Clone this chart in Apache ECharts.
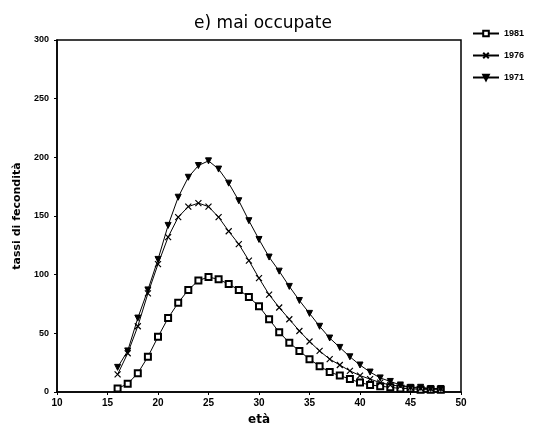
<!DOCTYPE html>
<html><head><meta charset="utf-8">
<script src="https://cdn.jsdelivr.net/npm/echarts@6/dist/echarts.min.js"></script>
<style>html,body{margin:0;padding:0;background:#fff}#c{width:541px;height:433px}</style>
</head><body><div id="c"></div>
<script>
const ages = [16,17,18,19,20,21,22,23,24,25,26,27,28,29,30,31,32,33,34,35,36,37,38,39,40,41,42,43,44,45,46,47,48];
const s1981 = [3,7,16,30,47,63,76,87,95,98,96,92,87,81,73,62,51,42,35,28,22,17,14,11,8,6,5,4,3,3,2,2,2];
const s1976 = [15,33,56,84,109,132,149,158,161,158,149,137,126,112,97,83,72,62,52,43,35,28,23,18,14,11,8,6,5,4,3,3,3];
const s1971 = [21,35,63,87,113,142,166,183,193,197,190,178,163,146,130,115,103,90,78,67,56,46,38,30,23,17,12,9,6,4,4,3,3];
const seriesNames = ['1981','1976','1971'];
const xTicks = [10,50,5];
const yTicks = [0,300,50];

const pair = a => ages.map((x,i)=>[x,a[i]]);
const font = 'Liberation Sans';
const xPath = 'path://M0,0L10,10M10,0L0,10';
function mk(name, data, symbol, size, rot, bw){
  return {name, type:'line', data: pair(data), symbol, symbolSize:size, symbolRotate:rot,
    lineStyle:{color:'#000', width:1}, showAllSymbol:true,
    itemStyle:{color:'#000', borderColor:'#000', borderWidth:bw},
    emphasis:{disabled:true}};
}
const chart = echarts.init(document.getElementById('c'));
chart.setOption({
  animation:false,
  backgroundColor:'#fff',
  title:{text:'e) mai occupate', left:258, top:10, textAlign:'center',
    textStyle:{fontFamily:'DejaVu Sans', fontWeight:'normal', fontSize:17, color:'#000'}},
  legend:{orient:'vertical', left:467, top:24, itemWidth:26, itemHeight:7, itemGap:13,
    textStyle:{fontFamily:font, fontWeight:'bold', fontSize:9, color:'#000'},
    data:seriesNames},
  grid:{left:57, right:80, top:40, bottom:41, show:true, borderColor:'#000', borderWidth:1.5},
  xAxis:{type:'value', min:xTicks[0], max:xTicks[1], interval:xTicks[2],
    name:'età', nameLocation:'middle', nameGap:22,
    nameTextStyle:{fontFamily:'DejaVu Sans', fontSize:12, fontWeight:'bold', color:'#000'},
    axisLine:{lineStyle:{color:'#000', width:1.5}},
    axisTick:{length:3, lineStyle:{color:'#000'}},
    axisLabel:{fontFamily:font, fontWeight:'bold', fontSize:10, color:'#000', margin:6},
    splitLine:{show:false}},
  yAxis:{type:'value', min:yTicks[0], max:yTicks[1], interval:yTicks[2],
    name:'tassi di fecondità', nameLocation:'middle', nameGap:34, nameRotate:90,
    nameTextStyle:{fontFamily:'DejaVu Sans', fontSize:11, fontWeight:'bold', color:'#000'},
    axisLine:{lineStyle:{color:'#000', width:1.5}},
    axisTick:{length:3, lineStyle:{color:'#000'}},
    axisLabel:{fontFamily:font, fontWeight:'bold', fontSize:9, color:'#000', margin:8},
    splitLine:{show:false}},
  series:[
    mk('1981', s1981, 'emptyRect', 6, 0, 1.8),
    mk('1976', s1976, xPath, 6, 0, 1.2),
    mk('1971', s1971, 'triangle', 6, 180, 1)
  ]
});
</script></body></html>
